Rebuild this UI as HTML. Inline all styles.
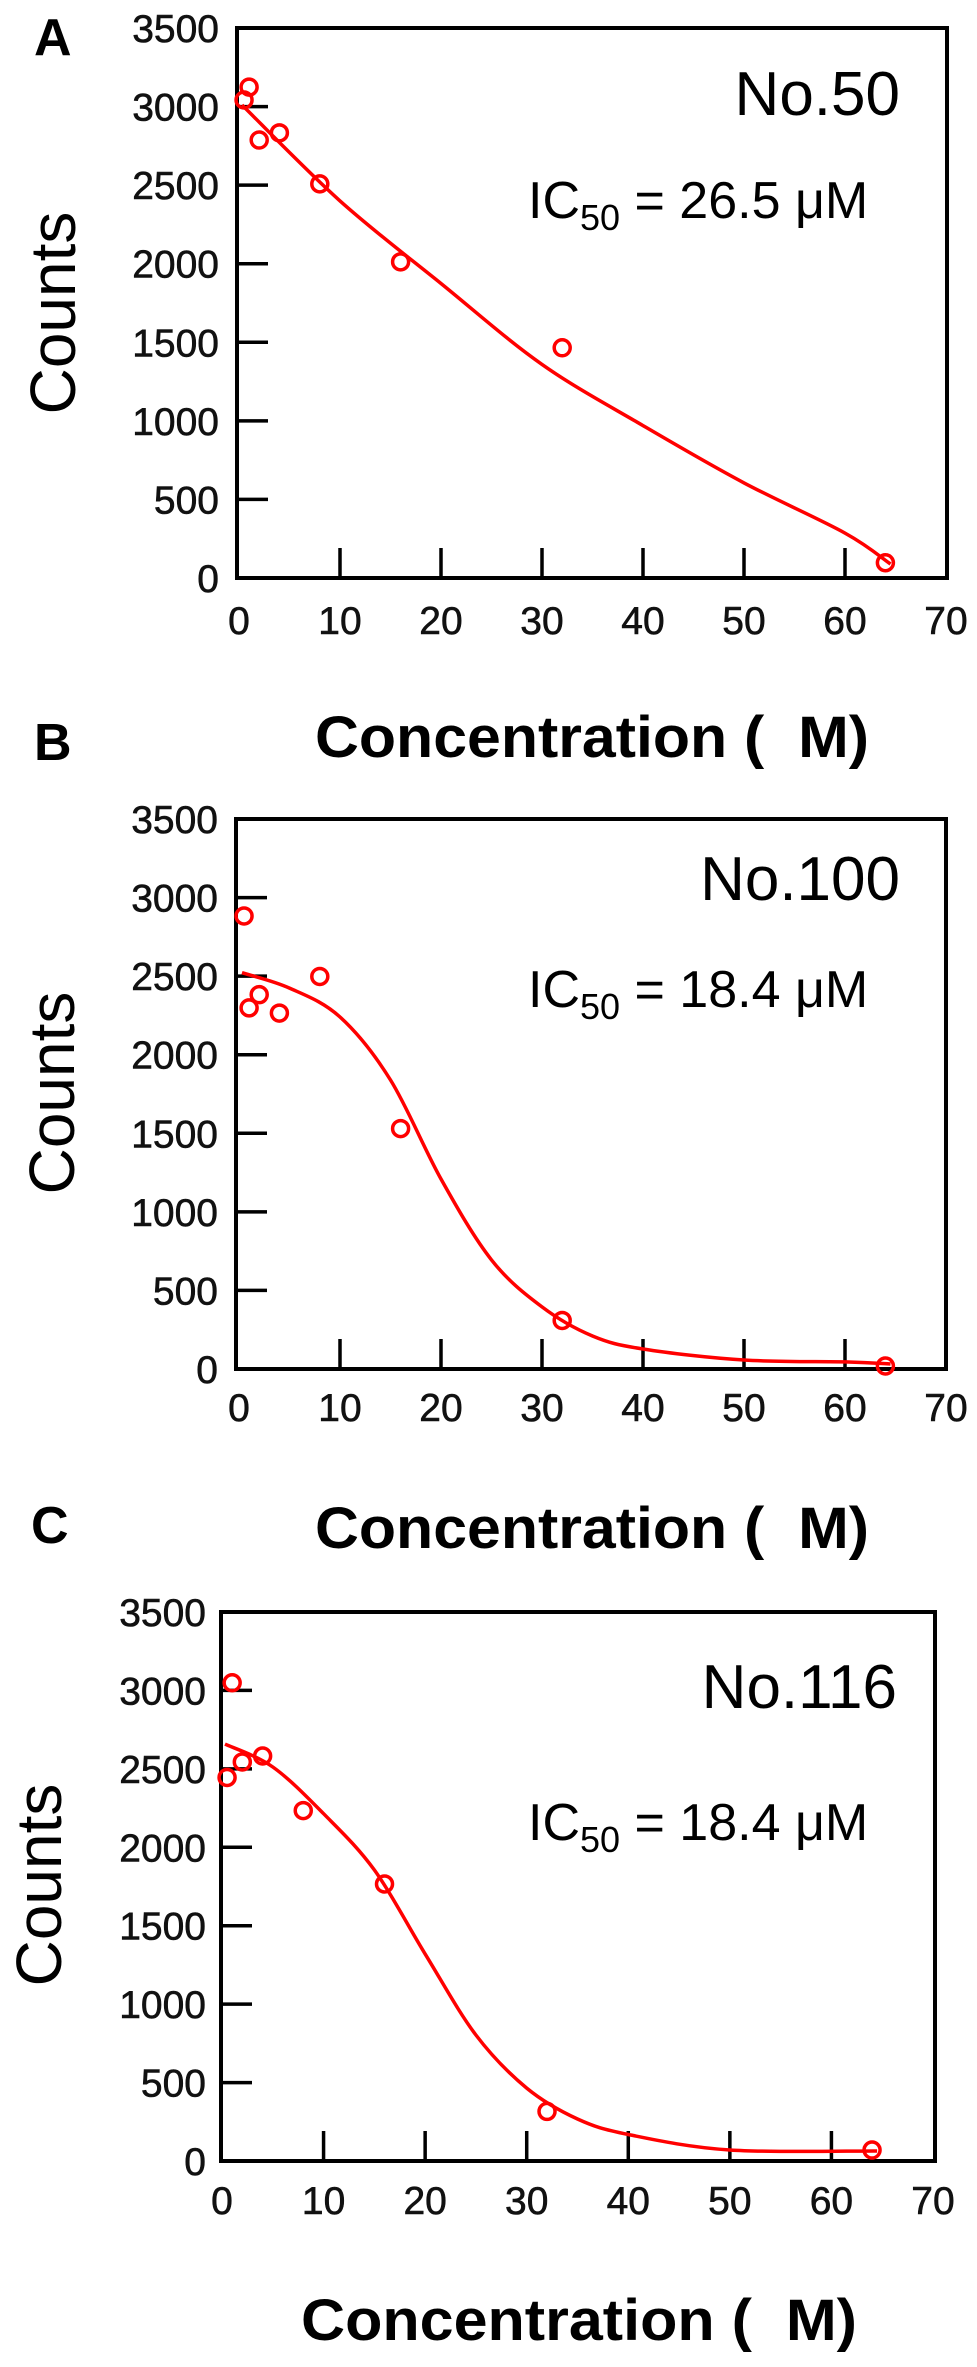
<!DOCTYPE html>
<html><head><meta charset="utf-8"><style>
html,body{margin:0;padding:0;background:#fff;}
svg{display:block;font-family:"Liberation Sans",Arial,sans-serif;}
</style></head><body>
<svg id="fig" width="977" height="2367" viewBox="0 0 977 2367" xmlns="http://www.w3.org/2000/svg"></svg>
<script>
const concentrations = [0.5, 1, 2, 4, 8, 16, 32, 64];
const countsA = [3042, 3124, 2787, 2833, 2508, 2012, 1465, 97];
const countsB = [2883, 2298, 2382, 2265, 2498, 1530, 309, 19];
const countsC = [2445, 3049, 2544, 2582, 2234, 1766, 316, 70];
const fitXA = [0.3, 10, 20, 30, 40, 50, 60, 64.5];
const fitYA = [3010, 2400, 1874, 1359, 970, 605, 286, 89];
const fitXB = [0.3, 5, 10, 15, 20, 25, 30, 35, 40, 50, 60, 64.5];
const fitYB = [2522, 2424, 2240, 1839, 1209, 694, 395, 210, 127, 57, 45, 32];
const fitXC = [0.3, 5, 10, 15, 20, 25, 30, 35, 40, 50, 64.5];
const fitYC = [2658, 2512, 2214, 1855, 1320, 803, 465, 268, 169, 70, 64];
const yTicks = [0, 500, 1000, 1500, 2000, 2500, 3000, 3500];
const xTicks = [0, 10, 20, 30, 40, 50, 60, 70];
const panelNames = ["No.50", "No.100", "No.116"];
const ic50Values = ["26.5", "18.4", "18.4"];
const panelLetters = ["A", "B", "C"];

const NS = "http://www.w3.org/2000/svg";
const svg = document.getElementById("fig");
function mk(tag, attrs, parent) {
  const e = document.createElementNS(NS, tag);
  for (const k in attrs) e.setAttribute(k, attrs[k]);
  (parent || svg).appendChild(e);
  return e;
}
function smoothPath(pts) {
  let d = "M" + pts[0][0].toFixed(1) + "," + pts[0][1].toFixed(1);
  for (let i = 0; i < pts.length - 1; i++) {
    const p0 = pts[Math.max(0, i - 1)], p1 = pts[i], p2 = pts[i + 1], p3 = pts[Math.min(pts.length - 1, i + 2)];
    const c1x = p1[0] + (p2[0] - p0[0]) / 6, c1y = p1[1] + (p2[1] - p0[1]) / 6;
    const c2x = p2[0] - (p3[0] - p1[0]) / 6, c2y = p2[1] - (p3[1] - p1[1]) / 6;
    d += "C" + c1x.toFixed(1) + "," + c1y.toFixed(1) + " " + c2x.toFixed(1) + "," + c2y.toFixed(1) + " " + p2[0].toFixed(1) + "," + p2[1].toFixed(1);
  }
  return d;
}
const layouts = [
  {L:237,T:28,R:947,B:578,x0:239,x70:946,ylabR:219,xlabY:634,cx:53,cy:313,xt:315,xtB:757,xtW:554,lx:34,ly:55,nameB:115,nameR:900,icB:218,icL:528,xs:countsA,fx:fitXA,fy:fitYA},
  {L:236,T:819,R:946,B:1369,x0:239,x70:946,ylabR:218,xlabY:1421,cx:52,cy:1093,xt:315,xtB:1548,xtW:554,lx:34,ly:760,nameB:900,nameR:900,icB:1007,icL:528,xs:countsB,fx:fitXB,fy:fitYB},
  {L:221,T:1612,R:935,B:2161,x0:222,x70:933,ylabR:206,xlabY:2214,cx:39,cy:1885,xt:301,xtB:2340,xtW:556,lx:31,ly:1543,nameB:1708,nameR:897,icB:1840,icL:528,xs:countsC,fx:fitXC,fy:fitYC}
];
layouts.forEach((p, i) => {
  const g = mk("g", {});
  
  
  const xS = v => p.x0 + (p.x70 - p.x0) * v / 70;
  const yS = v => p.B - (p.B - p.T) * v / 3500;
  const letter = mk("text", {x:p.lx, y:p.ly, "font-size":52, "font-weight":"bold"}, g);
  letter.textContent = panelLetters[i];
  
  
  const frame = mk("rect", {x:p.L, y:p.T, width:p.R-p.L, height:p.B-p.T, fill:"none", stroke:"#000", "stroke-width":4}, g);
  
  
  yTicks.forEach(v => {
    const y = yS(v);
    const t = mk("line", {x1:p.L, x2:p.L+31, y1:y, y2:y, stroke:"#000", "stroke-width":3.5}, g);
    
    
    const lb = mk("text", {x:p.ylabR, y:y+14, "font-size":39, "text-anchor":"end", fill:"#111", stroke:"#111", "stroke-width":0.6}, g);
    lb.textContent = v;
    
    
  });
  xTicks.forEach(v => {
    const x = xS(v);
    if (v > 0 && v < 70) {
      const t = mk("line", {x1:x, x2:x, y1:p.B, y2:p.B-30, stroke:"#000", "stroke-width":3.5}, g);
      
      
    }
    const lb = mk("text", {x:x, y:p.xlabY, "font-size":39, "text-anchor":"middle", fill:"#111", stroke:"#111", "stroke-width":0.6}, g);
    lb.textContent = v;
    
    
  });
  const yt = mk("text", {x:p.cx, y:p.cy, "font-size":64, "text-anchor":"middle", "dominant-baseline":"central", transform:"rotate(-90 "+p.cx+" "+p.cy+")"}, g);
  yt.textContent = "Counts";
  
  
  const xt = mk("text", {x:p.xt, y:p.xtB, "font-size":58, "font-weight":"bold", textLength:p.xtW, lengthAdjust:"spacingAndGlyphs"}, g);
  xt.textContent = "Concentration (\u00a0\u00a0M)";
  
  
  const nm = mk("text", {x:p.nameR, y:p.nameB, "font-size":62, "text-anchor":"end"}, g);
  nm.textContent = panelNames[i];
  
  
  const ic = mk("text", {x:p.icL, y:p.icB, "font-size":52}, g);
  
  
  const s1 = mk("tspan", {}, ic); s1.textContent = "IC";
  const s2 = mk("tspan", {"font-size":36, dy:12}, ic); s2.textContent = "50";
  const s3 = mk("tspan", {dy:-12}, ic); s3.textContent = " = " + ic50Values[i] + " μM";
  const pts = p.fx.map((v, k) => [xS(v), yS(p.fy[k])]);
  const fit = mk("path", {d:smoothPath(pts), fill:"none", stroke:"#f00", "stroke-width":3.5, "stroke-linejoin":"round"}, g);
  
  
  concentrations.forEach((c, k) => {
    const pt = mk("circle", {cx:xS(c), cy:yS(p.xs[k]), r:8, fill:"none", stroke:"#f00", "stroke-width":3.5}, g);
    
    
  });
});
</script>
</body></html>
